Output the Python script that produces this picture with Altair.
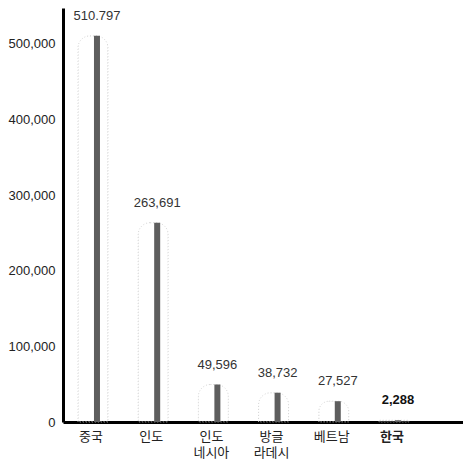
import altair as alt
import pandas as pd

categories = ["중국", "인도", "인도\n네시아", "방글\n라데시", "베트남", "한국"]
values = [510797, 263691, 49596, 38732, 27527, 2288]
value_labels = ["510.797", "263,691", "49,596", "38,732", "27,527", "2,288"]
y_ticks = [0, 100000, 200000, 300000, 400000, 500000]

df = pd.DataFrame({"cat": categories, "val": values, "lab": value_labels})

x = alt.X(
    "cat:N",
    sort=categories,
    scale=alt.Scale(domain=categories, paddingInner=0, paddingOuter=0.3223, align=0.1),
    axis=alt.Axis(
        title=None,
        labelAngle=0,
        labelExpr="split(datum.label, '\\n')",
        labelFont="Noto Sans CJK KR",
        labelFontSize=13,
        labelColor="#222",
        labelLineHeight=16,
        labelOffset=-6,
        labelPadding=8,
        labelOverlap=False,
        ticks=False,
        domainColor="#000",
        domainWidth=3,
        labelFontWeight={"condition": {"test": "datum.value === '한국'", "value": "bold"}, "value": "normal"},
    ),
)
y = alt.Y(
    "val:Q",
    scale=alt.Scale(domain=[0, 547600], nice=False, zero=True),
    axis=alt.Axis(
        title=None,
        values=y_ticks,
        labelExpr="format(datum.value, ',')",
        grid=False,
        ticks=False,
        labelPadding=8,
        labelFont="Liberation Sans",
        labelFontSize=13,
        labelColor="#222",
        domainColor="#000",
        domainWidth=3,
    ),
)

base = alt.Chart(df)

halo = base.mark_bar(
    width=30, xOffset=-4, fillOpacity=0, stroke="#cccccc", strokeDash=[1, 2],
    strokeWidth=0.8, cornerRadiusTopLeft=12, cornerRadiusTopRight=12,
).encode(x=x, y=y)

bars = base.mark_bar(width=6, color="#5e5e5e").encode(x=x, y=y)

texts = base.transform_filter("datum.cat !== '한국'").mark_text(
    dy=-16, baseline="alphabetic", font="Liberation Sans", fontSize=13, color="#333",
).encode(x=x, y=y, text="lab:N")

texts_bold = base.transform_filter("datum.cat === '한국'").mark_text(
    dy=-16, baseline="alphabetic", font="Liberation Sans", fontSize=13, color="#111",
    fontWeight="bold",
).encode(x=x, y=y, text="lab:N")

chart = alt.layer(halo, bars, texts, texts_bold).properties(
    width=400, height=414, background="white", padding=0,
).configure_view(stroke=None)

chart.save("out.html", embed_options={"renderer": "svg", "actions": False})
